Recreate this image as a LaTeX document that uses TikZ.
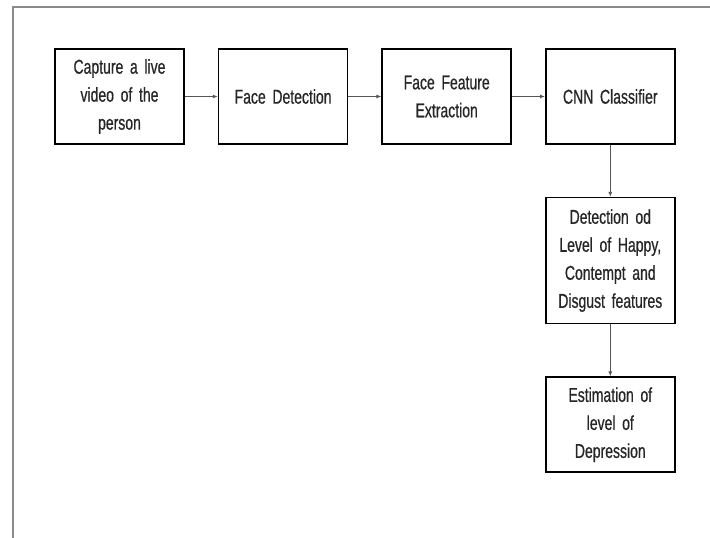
\documentclass[tikz,border=0pt]{standalone}
\usepackage{fontspec}
\newfontfamily\boxfont[FakeStretch=0.7, FakeBold=0.6, WordSpace=0.7]{Liberation Sans}
\usetikzlibrary{arrows.meta, positioning}
\definecolor{frameGray}{HTML}{8A8A8A}
\definecolor{lineGray}{HTML}{555555}

\begin{document}
\begin{tikzpicture}[
    x=1pt, y=1pt,
    node distance=33pt,
    procbox/.style={rectangle, draw=black, line width=1.6pt, fill=white,
                 minimum width=129pt, minimum height=95pt,
                 font=\boxfont\fontsize{20}{28}\selectfont\color{black!85}, align=center,
                 text width=124pt, inner sep=2pt},
    flowarrow/.style={draw=lineGray, line width=0.9pt, -{Latex[length=5pt, width=4pt]}},
  ]
    \useasboundingbox (0,0) rectangle (710,-538);
    % outer frame (left and top edges only)
    \draw[frameGray, line width=1.5pt] (13,-538) -- (13,-7) -- (710,-7);

    \node[procbox] (capture) at (119.5,-96.5) {Capture a live\\video of the\\person};
    \node[procbox, right=of capture] (detect) {Face Detection};
    \node[procbox, right=of detect] (extract) {Face Feature\\Extraction};
    \node[procbox, right=of extract] (cnn) {CNN Classifier};
    \node[procbox, below=52pt of cnn, minimum height=126pt] (level) {Detection od\\Level of Happy,\\Contempt and\\Disgust features};
    \node[procbox, below=52pt of level] (depress) {Estimation of\\level of\\Depression};

    \draw[flowarrow] (capture) -- (detect);
    \draw[flowarrow] (detect) -- (extract);
    \draw[flowarrow] (extract) -- (cnn);
    \draw[flowarrow] (cnn) -- (level);
    \draw[flowarrow] (level) -- (depress);
  \end{tikzpicture}
\end{document}
